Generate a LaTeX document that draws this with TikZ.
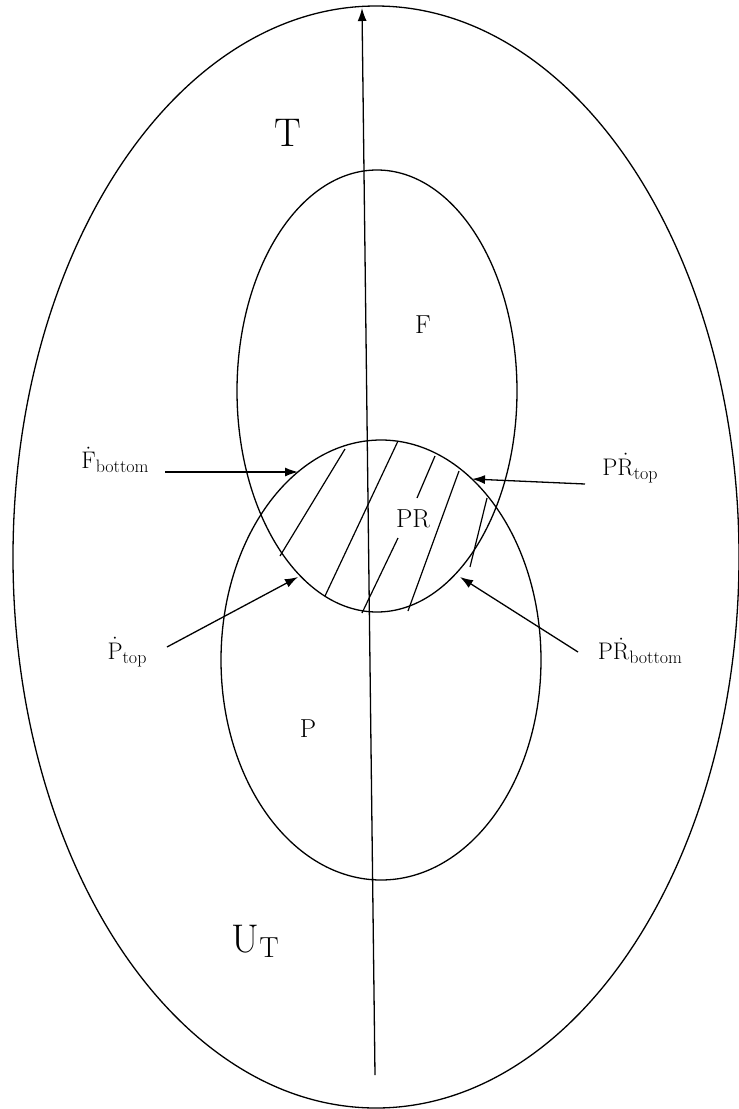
\documentclass[tikz,border=0pt]{standalone}
\usepackage{fontspec}
\usetikzlibrary{arrows.meta}
\newcommand{\mylab}[2]{{\fontsize{24}{28}\selectfont #1}\raisebox{-4pt}{\fontsize{18}{20}\selectfont #2}}
\newcommand{\dt}[1]{$\dot{\mathrm{#1}}$}
\begin{document}
\begin{tikzpicture}[x=1pt,y=-1pt,line width=1.3pt,
  ptr/.style={-{Latex[length=13pt,width=9pt]}},
  hatch/.style={line width=1.2pt},
  big/.style={inner sep=0pt,font=\fontsize{40}{44}\selectfont},
  mid/.style={inner sep=0pt,font=\fontsize{26}{30}\selectfont},
  side/.style={inner sep=0pt}]
\useasboundingbox (0,0) rectangle (739,1109);
% outer set
\draw (376,557) ellipse [x radius=363, y radius=551];
% F and P
\draw (377,391) ellipse [x radius=140, y radius=221];
\draw (381,660) ellipse [x radius=160, y radius=220];
% axis
\coordinate (axB) at (375,1075);
\coordinate (axT) at (362,8);
\draw[ptr] (axB) -- (axT);
% hatching
\draw[hatch] (345,449) -- (280,556);
\draw[hatch] (398,441) -- (325,596);
\draw[hatch] (435,456) -- (417,498);
\draw[hatch] (398,538) -- (362,613);
\draw[hatch] (459,471) -- (408,611);
\draw[hatch] (487,498) -- (470,567);
% labels
\node[big] (T) at (288,133) {T};
\node[big,anchor=base west] (UT) at (231,952) {U\raisebox{-5pt}{\fontsize{29}{32}\selectfont T}};
\node[mid] (F) at (423,325) {F};
\node[mid] (PR) at (413,519) {PR};
\node[mid] (P) at (308,729) {P};
\node[side] (Fb) at (115,460) {\mylab{\dt{F}}{bottom}};
\node[side] (Pt) at (127,652) {\mylab{\dt{P}}{top}};
\node[side] (PRt) at (630,468) {\mylab{P\dt{R}}{top}};
\node[side] (PRb) at (640,651) {\mylab{P\dt{R}}{bottom}};
% pointers
\coordinate (FbS) at (165,472);  \coordinate (FbE) at (298,472);
\coordinate (PtS) at (167,647);  \coordinate (PtE) at (298,577);
\coordinate (PRtS) at (585,484); \coordinate (PRtE) at (472,479);
\coordinate (PRbS) at (578,652); \coordinate (PRbE) at (460,577);
\draw[ptr] (FbS) -- (FbE);
\draw[ptr] (PtS) -- (PtE);
\draw[ptr] (PRtS) -- (PRtE);
\draw[ptr] (PRbS) -- (PRbE);
\end{tikzpicture}
\end{document}
